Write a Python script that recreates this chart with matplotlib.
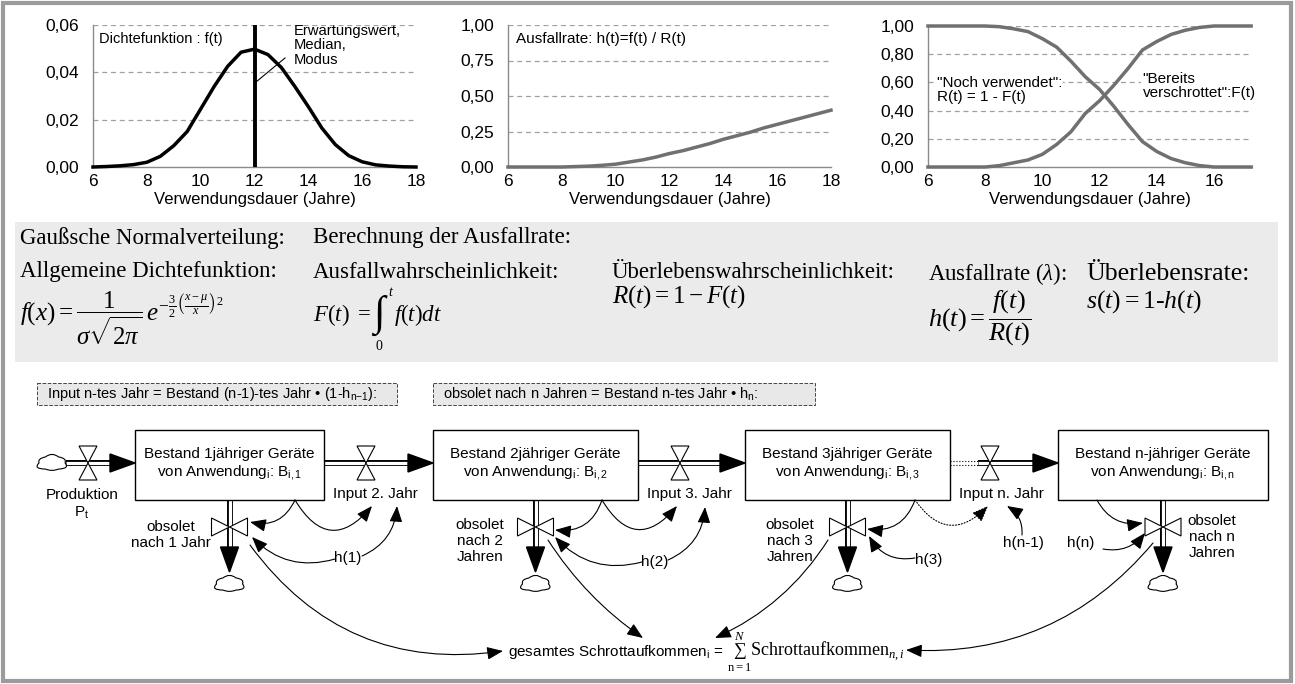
import numpy as np
import matplotlib.pyplot as plt
from matplotlib.patches import Rectangle, Polygon, FancyArrowPatch, PathPatch
from matplotlib.path import Path

plt.rcParams['font.family'] = ['Liberation Sans', 'DejaVu Sans']
plt.rcParams['mathtext.fontset'] = 'custom'
plt.rcParams['mathtext.rm'] = 'Liberation Serif'
plt.rcParams['mathtext.it'] = 'Liberation Serif:italic'
plt.rcParams['mathtext.bf'] = 'Liberation Serif:bold'
plt.rcParams['mathtext.sf'] = 'Liberation Sans'

W, H = 1295, 684

# ---- chart data ----
t_dens = [6, 6.5, 7, 7.5, 8, 8.5, 9, 9.5, 10, 10.5, 11, 11.5, 12,
          12.5, 13, 13.5, 14, 14.5, 15, 15.5, 16, 16.5, 17, 17.5, 18]
dens = [0.0, 0.0002, 0.0005, 0.001, 0.002, 0.0045, 0.009, 0.015, 0.0245,
        0.034, 0.0425, 0.0485, 0.0498, 0.0475, 0.042, 0.034, 0.0255, 0.0165,
        0.0095, 0.0048, 0.0022, 0.0009, 0.0004, 0.0001, 0.0]

t_hazard = [6, 7, 8, 8.5, 9, 9.5, 10, 10.5, 11, 11.5, 12, 12.5, 13, 13.5,
            14, 14.5, 15, 15.5, 16, 17, 18]
hazard = [0, 0, 0, 0.003, 0.006, 0.012, 0.02, 0.035, 0.05, 0.07, 0.095,
          0.115, 0.14, 0.165, 0.195, 0.22, 0.245, 0.275, 0.30, 0.35, 0.40]

t_cum = [6, 7, 8, 8.5, 9, 9.5, 10, 10.5, 11, 11.5, 12, 12.5, 13, 13.5, 14,
         14.5, 15, 15.5, 16, 17.3]
still_used = [1, 1, 1, 0.995, 0.98, 0.96, 0.91, 0.85, 0.75, 0.64, 0.55,
              0.43, 0.30, 0.18, 0.11, 0.06, 0.03, 0.01, 0, 0]
scrapped = [0, 0, 0, 0.01, 0.03, 0.05, 0.09, 0.16, 0.25, 0.38, 0.47, 0.58,
            0.70, 0.83, 0.89, 0.94, 0.97, 0.99, 1, 1]

dens_ticks = [0, 0.02, 0.04, 0.06]
dens_labels = ['0,00', '0,02', '0,04', '0,06']
hazard_ticks = [0, 0.25, 0.5, 0.75, 1.0]
hazard_labels = ['0,00', '0,25', '0,50', '0,75', '1,00']
cum_ticks = [0, 0.2, 0.4, 0.6, 0.8, 1.0]
cum_labels = ['0,00', '0,20', '0,40', '0,60', '0,80', '1,00']
years_full = [6, 8, 10, 12, 14, 16, 18]
years_short = [6, 8, 10, 12, 14, 16]

# ---- diagram labels ----
stock_names = ['Bestand 1jähriger Geräte', 'Bestand 2jähriger Geräte',
               'Bestand 3jähriger Geräte', 'Bestand n-jähriger Geräte']
stock_idx = ['1', '2', '3', 'n']
input_labels = ['Input 2. Jahr', 'Input 3. Jahr', 'Input n. Jahr']
obsolete_labels = ['obsolet\nnach 1 Jahr', 'obsolet\nnach 2\nJahren',
                   'obsolet\nnach 3\nJahren', 'obsolet\nnach n\nJahren']
rate_labels = ['h(1)', 'h(2)', 'h(3)', 'h(n-1)', 'h(n)']

fig = plt.figure(figsize=(W / 100, H / 100), dpi=100)
ov = fig.add_axes([0, 0, 1, 1], zorder=0)
ov.set_xlim(0, W)
ov.set_ylim(H, 0)
ov.axis('off')

ov.add_patch(Rectangle((3, 3), W - 7, H - 6, fill=False, ec='#9b9b9b', lw=3))


def chart(x0, x1, y0, y1, xmax, xticks, yticks, ylabels):
    ax = fig.add_axes([x0 / W, 1 - y1 / H, (x1 - x0) / W, (y1 - y0) / H], zorder=2)
    ax.set_facecolor('none')
    ax.set_xlim(6, xmax)
    ax.set_ylim(yticks[0], yticks[-1])
    ax.set_xticks(xticks)
    ax.set_yticks(yticks)
    ax.set_yticklabels(ylabels)
    ax.tick_params(length=0, labelsize=12.5)
    ax.tick_params(axis='y', pad=10)
    ax.tick_params(axis='x', pad=5)
    for s in ('top', 'right'):
        ax.spines[s].set_visible(False)
    for s in ('left', 'bottom'):
        ax.spines[s].set_color('#8a8a8a')
        ax.spines[s].set_linewidth(1.0)
    for yv in yticks[1:]:
        ax.axhline(yv, color='#a0a0a0', lw=0.9, ls=(0, (4, 3)), zorder=0)
    ax.set_xlabel('Verwendungsdauer (Jahre)', fontsize=12, labelpad=2)
    return ax


ax1 = chart(93, 416, 25, 167, 18, years_full, dens_ticks, dens_labels)
ax1.plot(t_dens, dens, color='black', lw=2.5, clip_on=False, zorder=3)
ax1.plot([12, 12], [0, 0.06], color='black', lw=2.8, zorder=3)
ax1.text(0.02, 0.9, 'Dichtefunktion : f(t)', transform=ax1.transAxes, fontsize=10.5, va='center')
ax1.text(0.62, 1.01, 'Erwartungswert,\nMedian,\nModus', transform=ax1.transAxes,
         fontsize=10.6, va='top', linespacing=1.05)
ov.plot([256, 285], [82, 58], color='black', lw=0.8, zorder=3)

ax2 = chart(508, 831, 25, 167, 18, years_full, hazard_ticks, hazard_labels)
ax2.plot(t_hazard, hazard, color='#707070', lw=2.5, clip_on=False, zorder=3)
ax2.text(0.025, 0.9, 'Ausfallrate: h(t)=f(t) / R(t)', transform=ax2.transAxes, fontsize=11, va='center')

ax3 = chart(928, 1252, 26, 167, 17.33, years_short, cum_ticks, cum_labels)
ax3.plot(t_cum, still_used, color='#707070', lw=2.5, clip_on=False, zorder=3)
ax3.plot(t_cum, scrapped, color='#707070', lw=2.5, clip_on=False, zorder=3)
ax3.text(6.3, 0.545, '"Noch verwendet":\nR(t) = 1 - F(t)', fontsize=11, va='center',
         linespacing=1.05, bbox=dict(fc='white', ec='none', pad=1), zorder=2)
ax3.text(13.5, 0.575, '"Bereits\nverschrottet":F(t)', fontsize=11, va='center',
         linespacing=1.05, bbox=dict(fc='white', ec='none', pad=1), zorder=2)

# ---- formula panel ----
ov.add_patch(Rectangle((15, 222), 1263, 140, fc='#ebebeb', ec='none', zorder=0))
serif = dict(family='Liberation Serif', fontsize=16.5, va='center')
ov.text(20, 238, 'Gaußsche Normalverteilung:', **serif)
ov.text(313, 238, 'Berechnung der Ausfallrate:', **serif)
ov.text(20, 272, 'Allgemeine Dichtefunktion:', **serif)
ov.text(313, 272, 'Ausfallwahrscheinlichkeit:', **serif)
ov.text(612, 272, 'Überlebenswahrscheinlichkeit:', **serif)
ov.text(928, 274, r'Ausfallrate ($\lambda$):', **serif)
ov.text(1086, 274, 'Überlebensrate:', family='Liberation Serif', fontsize=18.5, va='center')

ov.text(20, 318, r'$f(x) = \dfrac{1}{\sigma\sqrt{2\pi}}\,e^{-\frac{3}{2}\left(\frac{x-\mu}{x}\right)^{2}}$',
        family='Liberation Serif', fontsize=18, va='center')
ov.text(313, 315, r'$F(t)\ =$', **serif)
ov.text(371, 316, r'$\int$', family='Liberation Serif', fontsize=30, va='center')
ov.text(388, 292, r'$t$', family='Liberation Serif', fontsize=10, va='center')
ov.text(375, 346, '0', family='Liberation Serif', fontsize=10, va='center')
ov.text(394, 315, r'$f(t)dt$', **serif)
ov.text(612, 297, r'$R(t) = 1 - F(t)$', family='Liberation Serif', fontsize=18, va='center')
ov.text(928, 318, r'$h(t) = \dfrac{f(t)}{R(t)}$', family='Liberation Serif', fontsize=19, va='center')
ov.text(1086, 302, r'$s(t) = 1$' + '-' + r'$h(t)$', family='Liberation Serif', fontsize=18.5, va='center')

# ---- dashed formula boxes ----
for x0, x1 in [(37, 397), (433, 815)]:
    ov.add_patch(Rectangle((x0, 383), x1 - x0, 22, fc='#e8e8e8', ec='#444444',
                           ls='--', lw=0.7, zorder=1))
ov.text(47, 394, r'Input n-tes Jahr = Bestand (n-1)-tes Jahr • (1-h$_{\mathsf{n{-}1}}$):',
        fontsize=10.5, va='center')
ov.text(443, 394, r'obsolet nach n Jahren = Bestand n-tes Jahr • h$_\mathsf{n}$:',
        fontsize=10.5, va='center')

# ---- stock & flow diagram ----
box_x = [(135, 324), (433, 638), (745, 950), (1058, 1268)]
box_top, box_bot = 430, 500
flow_y = 463
out_y = 527


def pipe(xs, ys, ls='-'):
    ov.plot(xs, ys, color='black', lw=4.3, ls=ls, solid_capstyle='butt', zorder=2)
    ov.plot(xs, ys, color='white', lw=2.3, ls='-', solid_capstyle='butt', zorder=2.1)


def head_right(x, y):
    ov.add_patch(Polygon([(x - 25, y - 9), (x, y), (x - 25, y + 9)], closed=True,
                         fc='black', ec='black', zorder=3))


def head_down(x, y):
    ov.add_patch(Polygon([(x - 9, y - 25), (x, y), (x + 9, y - 25)], closed=True,
                         fc='black', ec='black', zorder=3))


def valve_v(x, y):
    for s in (-1, 1):
        ov.add_patch(Polygon([(x - 9, y + s * 17), (x + 9, y + s * 17), (x, y)], closed=True,
                             fc='white', ec='black', lw=0.8, zorder=4))


def valve_h(x, y):
    for s in (-1, 1):
        ov.add_patch(Polygon([(x + s * 18, y - 9), (x + s * 18, y + 9), (x, y)], closed=True,
                             fc='white', ec='black', lw=0.8, zorder=4))


def cloud(cx, cy, rx=13, ry=7):
    n = 6
    bump = [1.6, 1.25, 1.7, 1.3, 1.6, 1.35]
    verts = [(cx + rx, cy)]
    codes = [Path.MOVETO]
    for k in range(n):
        a0 = 2 * np.pi * k / n
        a1 = 2 * np.pi * (k + 1) / n
        am = (a0 + a1) / 2
        verts.append((cx + bump[k] * rx * np.cos(am), cy + bump[k] * ry * np.sin(am)))
        verts.append((cx + rx * np.cos(a1), cy + ry * np.sin(a1)))
        codes += [Path.CURVE3, Path.CURVE3]
    ov.add_patch(PathPatch(Path(verts, codes), fc='white', ec='black', lw=0.8, zorder=3))


for (x0, x1), name, idx in zip(box_x, stock_names, stock_idx):
    ov.add_patch(Rectangle((x0, box_top), x1 - x0, box_bot - box_top,
                           fc='white', ec='black', lw=1.0, zorder=3))
    xc = (x0 + x1) / 2
    ov.text(xc, 454, name, fontsize=11, ha='center', va='center', zorder=4)
    ov.text(xc, 473, r'von Anwendung$_\mathsf{i}$: B$_\mathsf{i,' + idx + '}$',
            fontsize=11, ha='center', va='center', zorder=4)
    # outflow
    pipe([xc, xc], [box_bot, 550])
    head_down(xc, 572)
    valve_h(xc, out_y)
    cloud(xc, 584)

# production inflow
cloud(52, flow_y)
pipe([66, 112], [flow_y, flow_y])
head_right(135, flow_y)
valve_v(88, flow_y)
ov.text(82, 495, 'Produktion', fontsize=11, ha='center', va='center')
ov.text(82, 513, r'P$_\mathsf{t}$', fontsize=11, ha='center', va='center')

# flows between stocks
valve_xs = [366, 680, 990]
label_xs = [375, 689, 1001]
for k in range(3):
    xa = box_x[k][1]
    xb = box_x[k + 1][0]
    if k == 2:
        ov.plot([xa, 978], [flow_y - 2, flow_y - 2], color='black', lw=0.8, ls=':', zorder=2)
        ov.plot([xa, 978], [flow_y + 2, flow_y + 2], color='black', lw=0.8, ls=':', zorder=2)
        pipe([978, xb - 23], [flow_y, flow_y])
    else:
        pipe([xa, xb - 23], [flow_y, flow_y])
    head_right(xb, flow_y)
    valve_v(valve_xs[k], flow_y)
    ov.text(label_xs[k], 494, input_labels[k], fontsize=11, ha='center', va='center')

# outflow labels
ov.text(171, 535, obsolete_labels[0], fontsize=11, ha='center', va='center', linespacing=1.2)
ov.text(480, 541, obsolete_labels[1], fontsize=11, ha='center', va='center', linespacing=1.2)
ov.text(790, 541, obsolete_labels[2], fontsize=11, ha='center', va='center', linespacing=1.2)
ov.text(1212, 537, obsolete_labels[3], fontsize=11, ha='center', va='center', linespacing=1.2)

# rate labels
for lbl, (x, y) in zip(rate_labels, [(348, 558), (655, 562), (929, 560), (1023, 543), (1081, 543)]):
    ov.text(x, y, lbl, fontsize=11, ha='center', va='center')


def link(a, b, rad, ls='-'):
    ov.add_patch(FancyArrowPatch(a, b, connectionstyle=f'arc3,rad={rad}',
                                 arrowstyle='-|>,head_length=0.7,head_width=0.28',
                                 mutation_scale=14, lw=0.8, color='black', ls=ls,
                                 shrinkA=0, shrinkB=0, zorder=5))


# stock 1
link((295, 500), (250, 522), -0.4)
link((295, 500), (372, 506), 0.7)
link((335, 559), (252, 537), -0.3)
link((362, 556), (397, 506), 0.3)
link((250, 545), (503, 651), 0.3)
# stock 2
link((602, 500), (555, 530), -0.4)
link((602, 500), (677, 506), 0.7)
link((642, 562), (555, 537), -0.3)
link((668, 560), (705, 507), 0.3)
link((548, 540), (643, 638), 0.1)
# stock 3
link((915, 500), (867, 529), -0.4)
link((915, 500), (988, 506), 0.6, ls=':')
link((915, 558), (869, 536), -0.35)
link((828, 540), (715, 638), -0.15)
link((1022, 535), (1007, 506), 0.3)
# stock n
link((1097, 500), (1143, 523), 0.35)
link((1103, 549), (1145, 533), 0.3)
link((1153, 543), (906, 650), -0.25)

# total scrap
ov.text(508, 652, r'gesamtes Schrottaufkommen$_\mathsf{i}$ =', fontsize=11, va='center')
ov.text(727, 652, r'$\sum_{\mathrm{n=1}}^{N}\mathrm{Schrottaufkommen}_{n,i}$',
        fontsize=13, va='center')

fig.savefig('out.png', dpi=100)
